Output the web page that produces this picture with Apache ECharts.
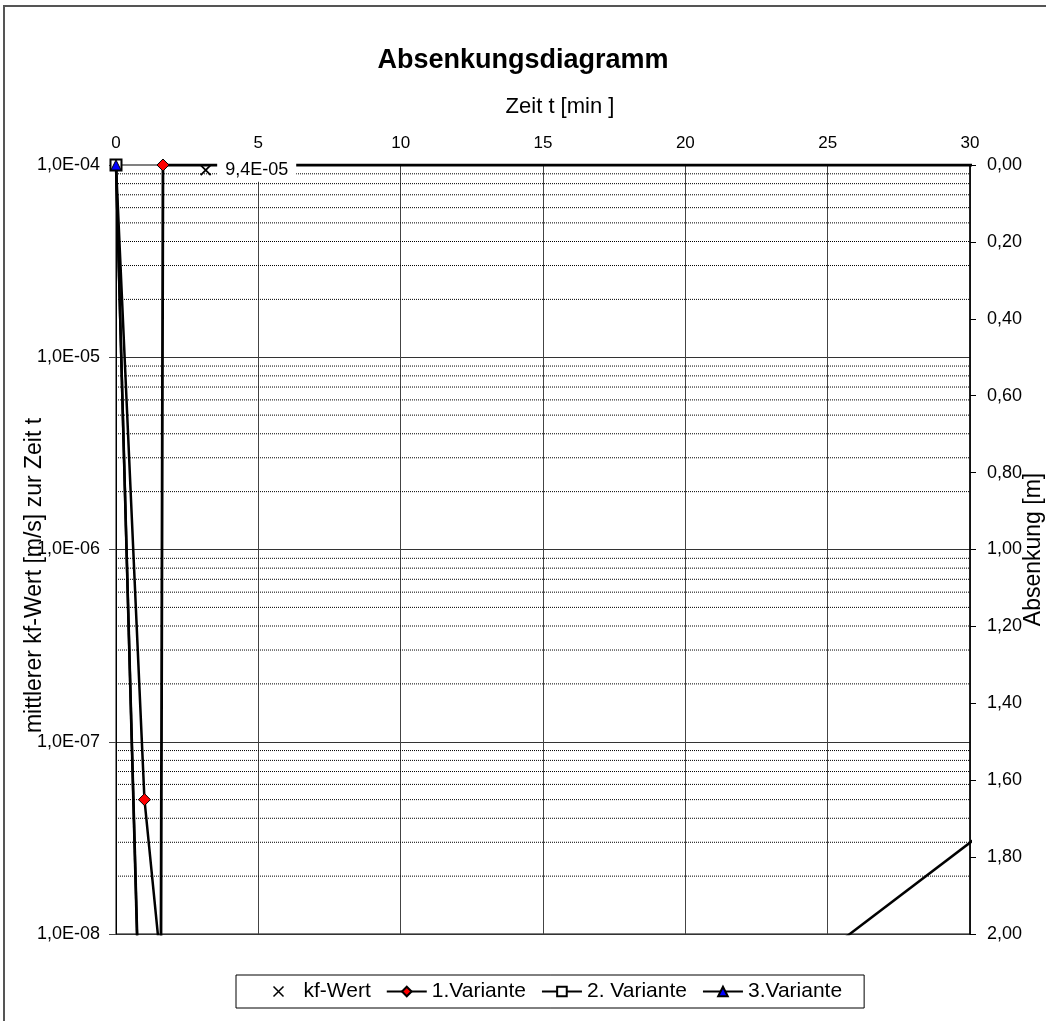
<!DOCTYPE html>
<html>
<head>
<meta charset="utf-8">
<script src="https://cdn.jsdelivr.net/npm/echarts@6/dist/echarts.min.js"></script>
<style>html,body{margin:0;padding:0;background:#fff;overflow:hidden}#c{width:1046px;height:1021px}</style>
</head>
<body>
<div id="c"></div>
<script>
// ---- data ----
const kfWert = [[3.15, 9.4e-5]];
const variante1Kf = [[0, 1.0e-4], [1.0, 5.0e-8], [2.14, 1.0e-9]];
const variante1Abs = [[45, 0.0], [1.65, 0.0], [1.56, 2.6]];
const variante2Kf = [[0, 1.0e-4], [0.92, 1.0e-9]];
const variante2Abs = [[24, 2.10], [32, 1.65]];
const variante3Kf = [[0, 1.0e-4], [0.93, 1.0e-9]];
const legendNames = ['kf-Wert', '1.Variante', '2. Variante', '3.Variante'];
const kfDecades = [1e-5, 1e-6, 1e-7, 1e-8];
const minorMultipliers = [2, 3, 4, 5, 6, 7, 8, 9];
const timeRange = [0, 30];

const FONT = 'Liberation Sans, Arial, sans-serif';
function fmtE(v) {
  let e = Math.floor(Math.log10(v) + 1e-9);
  let m = v / Math.pow(10, e);
  return m.toFixed(1).replace('.', ',') + 'E' + (e < 0 ? '-' : '+') + String(Math.abs(e)).padStart(2, '0');
}
const minorValues = [];
kfDecades.forEach(d => minorMultipliers.forEach(m => minorValues.push(d * m)));

const X_PATH = 'path://M0,0L10,10M10,0L0,10';
const X_LEGEND = 'path://M0,0M40,12M15,1L25,11M25,1L15,11';

const minorSeries = minorValues.map(v => ({
  name: '_minor', type: 'line', yAxisIndex: 0, z: 1, silent: true,
  data: [[timeRange[0], v], [timeRange[1], v]],
  symbol: 'none', lineStyle: { color: '#000', width: 1, type: [1, 1] },
  emphasis: { disabled: true }, tooltip: { show: false }
}));

const chart = echarts.init(document.getElementById('c'), null, { renderer: 'canvas', width: 1046, height: 1021 });
chart.setOption({
  animation: false,
  backgroundColor: '#fff',
  textStyle: { fontFamily: FONT },
  title: {
    text: 'Absenkungsdiagramm', left: 'center', top: 42,
    textStyle: { fontFamily: FONT, fontSize: 27, fontWeight: 'bold', color: '#000' }
  },
  graphic: [{
    type: 'rect', z: -10, silent: true,
    shape: { x: 4, y: 6, width: 1100, height: 1100 },
    style: { fill: 'none', stroke: '#555', lineWidth: 2 }
  }],
  legend: {
    data: [
      { name: 'kf-Wert', icon: X_LEGEND, itemStyle: { color: 'none', borderColor: '#000', borderWidth: 1.5 } },
      { name: '1.Variante' }, { name: '2. Variante' }, { name: '3.Variante' }
    ],
    left: 236, top: 975, orient: 'horizontal',
    itemWidth: 40, itemHeight: 12, itemGap: 15,
    padding: [6, 22, 6, 20],
    borderColor: '#000', borderWidth: 1,
    textStyle: { fontFamily: FONT, fontSize: 21, color: '#000' }
  },
  grid: {
    left: 116, right: 76, top: 165, bottom: 87, show: true, borderColor: '#000', borderWidth: 1,
    containLabel: false, outerBoundsMode: 'none'
  },
  xAxis: {
    type: 'value', position: 'top', min: timeRange[0], max: timeRange[1], interval: 5,
    name: 'Zeit t [min ]', nameLocation: 'middle', nameGap: 47, nameMoveOverlap: false,
    nameTextStyle: { fontFamily: FONT, fontSize: 22, color: '#000', padding: [0, 0, 0, 34] },
    axisLine: { show: true, lineStyle: { color: '#808080', width: 2 } },
    axisTick: { show: false },
    axisLabel: { fontFamily: FONT, fontSize: 17, color: '#000', margin: 13 },
    splitLine: { show: true, lineStyle: { color: '#444', width: 1 } }
  },
  yAxis: [{
    type: 'log', logBase: 10, min: 1e-8, max: 1e-4, position: 'left',
    name: 'mittlerer kf-Wert [m/s] zur Zeit t', nameLocation: 'middle', nameGap: 70, nameRotate: 90,
    nameMoveOverlap: false,
    nameTextStyle: { fontFamily: FONT, fontSize: 23, color: '#000', padding: [0, 52, 0, 0] },
    axisLine: { show: true, lineStyle: { color: '#000', width: 1 } },
    axisTick: { show: true, length: 7, lineStyle: { color: '#444' } },
    axisLabel: { fontFamily: FONT, fontSize: 18, color: '#000', margin: 16, formatter: fmtE },
    splitLine: { show: true, lineStyle: { color: '#333', width: 1 } }
  }, {
    type: 'value', min: 0, max: 2, interval: 0.2, inverse: true, position: 'right',
    name: 'Absenkung [m]', nameLocation: 'middle', nameGap: 52, nameRotate: 90,
    nameMoveOverlap: false,
    nameTextStyle: { fontFamily: FONT, fontSize: 23, color: '#000' },
    axisLine: { show: true, lineStyle: { color: '#000', width: 1.5 } },
    axisTick: { show: true, length: 6, lineStyle: { color: '#000' } },
    axisLabel: { fontFamily: FONT, fontSize: 18, color: '#000', margin: 17, formatter: v => v.toFixed(2).replace('.', ',') },
    splitLine: { show: false }
  }],
  series: minorSeries.concat([
    {
      name: '1.Variante', type: 'line', yAxisIndex: 0, data: variante1Kf, z: 3,
      symbol: 'diamond', symbolSize: 12, showAllSymbol: true,
      itemStyle: { color: '#ff0000', borderColor: '#000', borderWidth: 1 },
      lineStyle: { color: '#000', width: 2.5 }
    },
    {
      name: '1.Variante', type: 'line', yAxisIndex: 1, data: variante1Abs, z: 3,
      symbol: 'diamond', symbolSize: 12, showAllSymbol: true,
      itemStyle: { color: '#ff0000', borderColor: '#000', borderWidth: 1 },
      lineStyle: { color: '#000', width: 2.8 }
    },
    {
      name: '2. Variante', type: 'line', yAxisIndex: 0, data: variante2Kf, z: 3,
      symbol: 'rect', symbolSize: 11, showAllSymbol: true,
      itemStyle: { color: '#fff', borderColor: '#000', borderWidth: 2 },
      lineStyle: { color: '#000', width: 2.5 }
    },
    {
      name: '2. Variante', type: 'line', yAxisIndex: 1, data: variante2Abs, z: 3,
      symbol: 'rect', symbolSize: 11, showAllSymbol: true,
      itemStyle: { color: '#fff', borderColor: '#000', borderWidth: 2 },
      lineStyle: { color: '#000', width: 2.5 }
    },
    {
      name: '3.Variante', type: 'line', yAxisIndex: 0, data: variante3Kf, z: 3,
      symbol: 'triangle', symbolSize: 10, showAllSymbol: true,
      itemStyle: { color: '#0000ff', borderColor: '#000', borderWidth: 1 },
      lineStyle: { color: '#000', width: 2.5 }
    },
    {
      name: 'kf-Wert', type: 'scatter', yAxisIndex: 0, data: kfWert, z: 6,
      symbol: X_PATH, symbolSize: 10,
      itemStyle: { color: 'none', borderColor: '#000', borderWidth: 1.8, opacity: 1 },
      label: {
        show: true, position: 'right', distance: 4,
        formatter: p => fmtE(p.value[1]),
        fontFamily: FONT, fontSize: 18, color: '#000', opacity: 1,
        backgroundColor: '#fff', padding: [3, 8, 2, 8]
      }
    }
  ])
});
</script>
</body>
</html>
